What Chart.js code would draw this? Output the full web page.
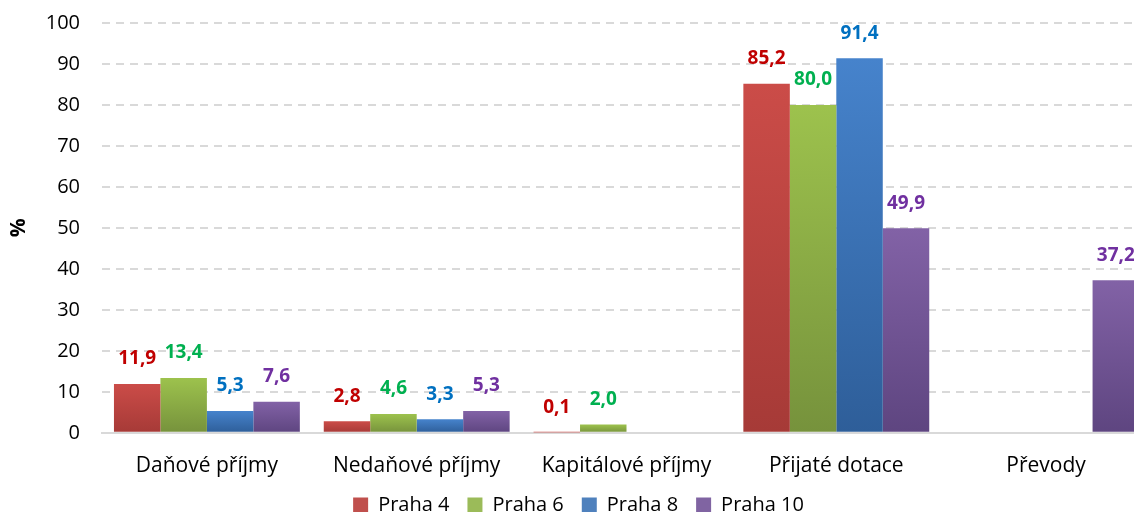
<!DOCTYPE html>
<html>
<head>
<meta charset="utf-8">
<script src="https://cdn.jsdelivr.net/npm/chart.js@4/dist/chart.umd.min.js"></script>
<style>
html,body{margin:0;padding:0;background:#fff;overflow:hidden;width:1134px;height:512px;}
#wrap{position:absolute;left:0;top:0;width:1151px;height:512px;}
</style>
</head>
<body>
<div id="wrap"><canvas id="c"></canvas></div>
<script>
const categories = ['Daňové příjmy', 'Nedaňové příjmy', 'Kapitálové příjmy', 'Přijaté dotace', 'Převody'];
const seriesNames = ['Praha 4', 'Praha 6', 'Praha 8', 'Praha 10'];
const praha4 = [11.9, 2.8, 0.1, 85.2, null];
const praha6 = [13.4, 4.6, 2.0, 80.0, null];
const praha8 = [5.3, 3.3, null, 91.4, null];
const praha10 = [7.6, 5.3, null, 49.9, 37.2];
const yTicks = [0, 10, 20, 30, 40, 50, 60, 70, 80, 90, 100];

const fillTop = ['#CB4C48', '#9DC24D', '#4683CC', '#8262A6'];
const fillBot = ['#A63A37', '#76923C', '#2E5E99', '#5E4580'];
const legendColor = ['#C0504D', '#9BBB59', '#4F81BD', '#8064A2'];
const labelColor = ['#C00000', '#00B050', '#0070C0', '#7030A0'];
const FONT = '"Open Sans", "Liberation Sans", sans-serif';

function gradFill(i) {
  return function(ctx) {
    const chart = ctx.chart;
    if (!chart.chartArea || ctx.type !== 'data' || ctx.raw == null) return legendColor[i];
    const ys = chart.scales.y;
    const top = ys.getPixelForValue(ctx.raw);
    const base = ys.getPixelForValue(0);
    if (!isFinite(top) || Math.abs(base - top) < 1) return fillTop[i];
    const g = chart.ctx.createLinearGradient(0, top, 0, base);
    g.addColorStop(0, fillTop[i]);
    g.addColorStop(1, fillBot[i]);
    return g;
  };
}

const allSeries = [praha4, praha6, praha8, praha10];
const datasets = allSeries.map((d, i) => ({
  label: seriesNames[i],
  data: d,
  backgroundColor: gradFill(i),
  borderWidth: 0,
  categoryPercentage: 0.886,
  barPercentage: 1.0
}));

const valueLabels = {
  id: 'valueLabels',
  afterDatasetsDraw(chart) {
    const ctx = chart.ctx;
    ctx.save();
    ctx.font = 'bold 19px ' + FONT;
    ctx.textAlign = 'center';
    ctx.textBaseline = 'middle';
    chart.data.datasets.forEach((ds, i) => {
      const meta = chart.getDatasetMeta(i);
      meta.data.forEach((el, j) => {
        const v = ds.data[j];
        if (v == null) return;
        ctx.fillStyle = labelColor[i];
        ctx.fillText(v.toFixed(1).replace('.', ','), el.x, el.y - 25);
      });
    });
    ctx.restore();
  }
};

new Chart(document.getElementById('c'), {
  type: 'bar',
  data: { labels: categories, datasets: datasets },
  plugins: [valueLabels],
  options: {
    responsive: true,
    maintainAspectRatio: false,
    animation: false,
    layout: { padding: { top: 23, left: 6, right: 0, bottom: -13 } },
    plugins: {
      legend: {
        position: 'bottom',
        labels: {
          boxWidth: 15, boxHeight: 15, padding: 18,
          color: '#000',
          font: { family: FONT, size: 20 },
          generateLabels(chart) {
            return seriesNames.map((n, i) => ({
              text: n, fillStyle: legendColor[i], strokeStyle: legendColor[i],
              lineWidth: 0, hidden: false, datasetIndex: i, fontColor: '#000'
            }));
          }
        }
      },
      tooltip: { enabled: false }
    },
    scales: {
      x: {
        afterFit(axis) { axis.height -= 23; },
        grid: { display: false, drawTicks: false },
        border: { display: true, color: '#D9D9D9', width: 2 },
        ticks: { color: '#000', font: { family: FONT, size: 21 }, padding: 21 }
      },
      y: {
        min: 0, max: 100,
        afterBuildTicks(axis) { axis.ticks = yTicks.map(v => ({ value: v })); },
        afterFit(axis) { axis.width = 96; axis.paddingTop = 0; axis.paddingBottom = 0; },
        grid: {
          color: ctx => ctx.tick && ctx.tick.value === 0 ? 'rgba(0,0,0,0)' : '#D9D9D9',
          lineWidth: 2, drawTicks: false
        },
        border: { display: false, dash: [8, 6] },
        ticks: { color: '#000', font: { family: FONT, size: 20 }, padding: 22 },
        title: {
          display: true, text: '%', color: '#000',
          font: { family: FONT, size: 21, weight: 'bold' }, padding: { top: 0, bottom: 0 }
        }
      }
    }
  }
});
</script>
</body>
</html>
